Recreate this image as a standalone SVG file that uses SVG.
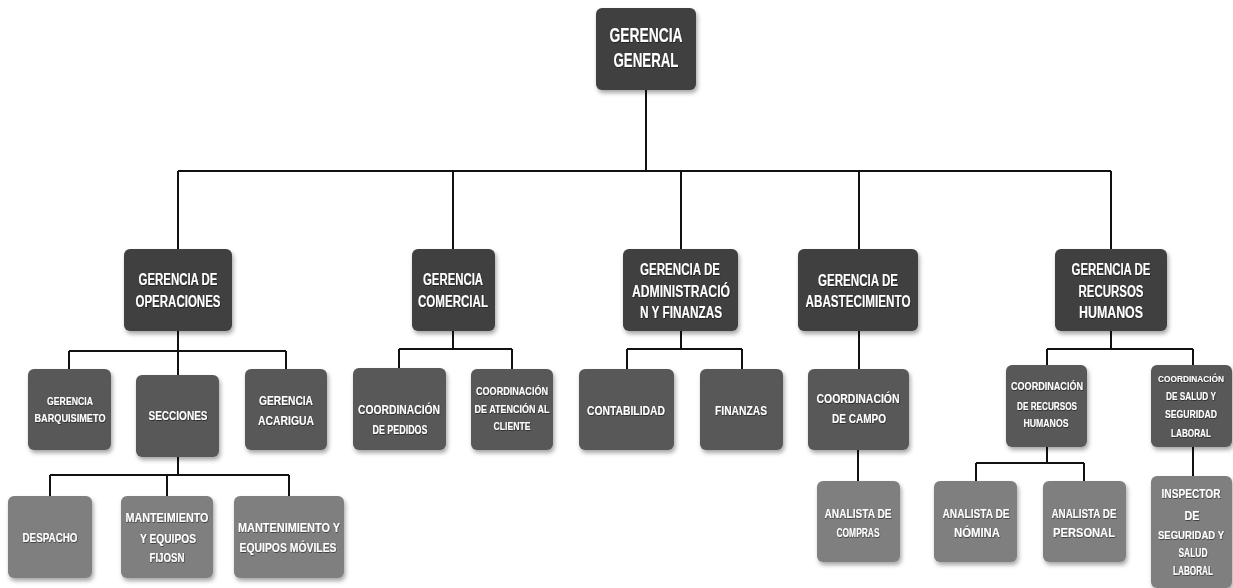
<svg xmlns="http://www.w3.org/2000/svg" width="1233" height="588" viewBox="0 0 1233 588">
  <defs>
    <filter id="shadow" x="-20%" y="-20%" width="140%" height="150%">
      <feDropShadow dx="1.5" dy="3" stdDeviation="2" flood-color="#000" flood-opacity="0.35"/>
    </filter>
    <filter id="glow" x="-10%" y="-30%" width="120%" height="160%">
      <feDropShadow dx="0.5" dy="0.8" stdDeviation="0.6" flood-color="#000" flood-opacity="0.6"/>
    </filter>
    <style>
      .box { filter: url(#shadow); }
      .l1 { fill: #3f3f3f; }
      .l2 { fill: #595959; }
      .l3 { fill: #7f7f7f; }
      text { font-family: "Liberation Sans", Arial, sans-serif; font-weight: bold; fill: #ffffff; text-anchor: middle; filter: url(#glow); }
      .t20 { font-size: 20px; }
      .t16 { font-size: 16px; }
      .t13 { font-size: 13px; }
      .t12 { font-size: 12px; }
      .t11 { font-size: 11px; }
      .t10 { font-size: 10.5px; }
      .t9 { font-size: 9.5px; }
      .wire { fill: none; stroke: #111; stroke-width: 2; }
    </style>
  </defs>
  <rect width="1233" height="588" fill="#ffffff"/>

  <!-- connectors -->
  <g id="connectors" class="wire">
    <path d="M646 90 V171"/>
    <path d="M178 171 H1111"/>
    <path d="M178 171 V249 M453 171 V249 M681 171 V249 M859 171 V249 M1111 171 V249"/>
    <!-- operaciones -->
    <path d="M178 331 V351 M69 351 H286 M69 351 V369 M178 351 V375 M286 351 V369"/>
    <path d="M178 457 V475 M50 475 H289 M50 475 V496 M167 475 V496 M289 475 V496"/>
    <!-- comercial -->
    <path d="M453 331 V349 M399 349 H512 M399 349 V368 M512 349 V369"/>
    <!-- administracion -->
    <path d="M681 331 V349 M627 349 H742 M627 349 V369 M742 349 V369"/>
    <!-- abastecimiento -->
    <path d="M859 331 V369 M858 450 V481"/>
    <!-- recursos humanos -->
    <path d="M1111 331 V349 M1047 349 H1193 M1047 349 V365 M1193 349 V365"/>
    <path d="M1047 447 V463 M976 463 H1084 M976 463 V481 M1084 463 V481"/>
    <path d="M1193 447 V476"/>
  </g>

  <!-- level 0 -->
  <g id="gerencia-general">
    <rect class="box l1" x="596" y="8" width="100" height="82" rx="6"/>
    <text class="t20" x="646" y="42" textLength="73" lengthAdjust="spacingAndGlyphs">GERENCIA</text>
    <text class="t20" x="646" y="67" textLength="65" lengthAdjust="spacingAndGlyphs">GENERAL</text>
  </g>

  <!-- level 1 -->
  <g id="gerencia-operaciones">
    <rect class="box l1" x="124" y="249" width="108" height="82" rx="6"/>
    <text class="t16" x="178" y="285" textLength="79" lengthAdjust="spacingAndGlyphs">GERENCIA DE</text>
    <text class="t16" x="178" y="307" textLength="85" lengthAdjust="spacingAndGlyphs">OPERACIONES</text>
  </g>
  <g id="gerencia-comercial">
    <rect class="box l1" x="412" y="249" width="83" height="82" rx="6"/>
    <text class="t16" x="453" y="285" textLength="60" lengthAdjust="spacingAndGlyphs">GERENCIA</text>
    <text class="t16" x="453" y="307" textLength="70" lengthAdjust="spacingAndGlyphs">COMERCIAL</text>
  </g>
  <g id="gerencia-administracion">
    <rect class="box l1" x="623" y="249" width="115" height="82" rx="6"/>
    <text class="t16" x="680" y="275" textLength="80" lengthAdjust="spacingAndGlyphs">GERENCIA DE</text>
    <text class="t16" x="681" y="297" textLength="98" lengthAdjust="spacingAndGlyphs">ADMINISTRACIÓ</text>
    <text class="t16" x="681" y="318" textLength="82" lengthAdjust="spacingAndGlyphs">N Y FINANZAS</text>
  </g>
  <g id="gerencia-abastecimiento">
    <rect class="box l1" x="798" y="249" width="120" height="82" rx="6"/>
    <text class="t16" x="858" y="286" textLength="80" lengthAdjust="spacingAndGlyphs">GERENCIA DE</text>
    <text class="t16" x="858" y="307" textLength="105" lengthAdjust="spacingAndGlyphs">ABASTECIMIENTO</text>
  </g>
  <g id="gerencia-rrhh">
    <rect class="box l1" x="1055" y="249" width="112" height="82" rx="6"/>
    <text class="t16" x="1111" y="275" textLength="79" lengthAdjust="spacingAndGlyphs">GERENCIA DE</text>
    <text class="t16" x="1111" y="297" textLength="65" lengthAdjust="spacingAndGlyphs">RECURSOS</text>
    <text class="t16" x="1111" y="318" textLength="64" lengthAdjust="spacingAndGlyphs">HUMANOS</text>
  </g>

  <!-- level 2 -->
  <g id="gerencia-barquisimeto">
    <rect class="box l2" x="28" y="369" width="83" height="81" rx="6"/>
    <text class="t11" x="70" y="405" textLength="46" lengthAdjust="spacingAndGlyphs">GERENCIA</text>
    <text class="t11" x="70" y="422" textLength="71" lengthAdjust="spacingAndGlyphs">BARQUISIMETO</text>
  </g>
  <g id="secciones">
    <rect class="box l2" x="136" y="375" width="83" height="82" rx="6"/>
    <text class="t13" x="178" y="420" textLength="59" lengthAdjust="spacingAndGlyphs">SECCIONES</text>
  </g>
  <g id="gerencia-acarigua">
    <rect class="box l2" x="245" y="369" width="82" height="81" rx="6"/>
    <text class="t13" x="286" y="405" textLength="54" lengthAdjust="spacingAndGlyphs">GERENCIA</text>
    <text class="t13" x="286" y="425" textLength="56" lengthAdjust="spacingAndGlyphs">ACARIGUA</text>
  </g>
  <g id="coord-pedidos">
    <rect class="box l2" x="353" y="368" width="93" height="82" rx="6"/>
    <text class="t13" x="399" y="414" textLength="82" lengthAdjust="spacingAndGlyphs">COORDINACIÓN</text>
    <text class="t13" x="400" y="434" textLength="55" lengthAdjust="spacingAndGlyphs">DE PEDIDOS</text>
  </g>
  <g id="coord-atencion">
    <rect class="box l2" x="471" y="369" width="82" height="81" rx="6"/>
    <text class="t11" x="512" y="395" textLength="72" lengthAdjust="spacingAndGlyphs">COORDINACIÓN</text>
    <text class="t11" x="512" y="413" textLength="75" lengthAdjust="spacingAndGlyphs">DE ATENCIÓN AL</text>
    <text class="t11" x="512" y="430" textLength="37" lengthAdjust="spacingAndGlyphs">CLIENTE</text>
  </g>
  <g id="contabilidad">
    <rect class="box l2" x="579" y="369" width="95" height="81" rx="6"/>
    <text class="t13" x="626" y="415" textLength="78" lengthAdjust="spacingAndGlyphs">CONTABILIDAD</text>
  </g>
  <g id="finanzas">
    <rect class="box l2" x="700" y="369" width="83" height="81" rx="6"/>
    <text class="t13" x="741" y="415" textLength="52" lengthAdjust="spacingAndGlyphs">FINANZAS</text>
  </g>
  <g id="coord-campo">
    <rect class="box l2" x="808" y="369" width="101" height="81" rx="6"/>
    <text class="t13" x="858" y="403" textLength="83" lengthAdjust="spacingAndGlyphs">COORDINACIÓN</text>
    <text class="t13" x="859" y="423" textLength="54" lengthAdjust="spacingAndGlyphs">DE CAMPO</text>
  </g>
  <g id="coord-rrhh">
    <rect class="box l2" x="1006" y="365" width="81" height="82" rx="6"/>
    <text class="t10" x="1047" y="390" textLength="72" lengthAdjust="spacingAndGlyphs">COORDINACIÓN</text>
    <text class="t10" x="1047" y="410" textLength="60" lengthAdjust="spacingAndGlyphs">DE RECURSOS</text>
    <text class="t10" x="1046" y="427" textLength="45" lengthAdjust="spacingAndGlyphs">HUMANOS</text>
  </g>
  <g id="coord-salud">
    <rect class="box l2" x="1151" y="365" width="81" height="82" rx="6"/>
    <text class="t9" x="1191" y="382" textLength="66" lengthAdjust="spacingAndGlyphs">COORDINACIÓN</text>
    <text class="t10" x="1191" y="400" textLength="50" lengthAdjust="spacingAndGlyphs">DE SALUD Y</text>
    <text class="t10" x="1191" y="418" textLength="52" lengthAdjust="spacingAndGlyphs">SEGURIDAD</text>
    <text class="t10" x="1191" y="437" textLength="40" lengthAdjust="spacingAndGlyphs">LABORAL</text>
  </g>

  <!-- level 3 -->
  <g id="despacho">
    <rect class="box l3" x="8" y="496" width="84" height="82" rx="6"/>
    <text class="t13" x="50" y="542" textLength="55" lengthAdjust="spacingAndGlyphs">DESPACHO</text>
  </g>
  <g id="mant-fijos">
    <rect class="box l3" x="121" y="496" width="92" height="82" rx="6"/>
    <text class="t13" x="167" y="522" textLength="83" lengthAdjust="spacingAndGlyphs">MANTEIMIENTO</text>
    <text class="t13" x="168" y="543" textLength="56" lengthAdjust="spacingAndGlyphs">Y EQUIPOS</text>
    <text class="t13" x="167" y="562" textLength="35" lengthAdjust="spacingAndGlyphs">FIJOSN</text>
  </g>
  <g id="mant-moviles">
    <rect class="box l3" x="234" y="496" width="110" height="82" rx="6"/>
    <text class="t13" x="289" y="532" textLength="102" lengthAdjust="spacingAndGlyphs">MANTENIMIENTO Y</text>
    <text class="t13" x="288" y="552" textLength="97" lengthAdjust="spacingAndGlyphs">EQUIPOS MÓVILES</text>
  </g>
  <g id="analista-compras">
    <rect class="box l3" x="817" y="481" width="83" height="81" rx="6"/>
    <text class="t13" x="858" y="518" textLength="67" lengthAdjust="spacingAndGlyphs">ANALISTA DE</text>
    <text class="t13" x="858" y="537" textLength="43" lengthAdjust="spacingAndGlyphs">COMPRAS</text>
  </g>
  <g id="analista-nomina">
    <rect class="box l3" x="934" y="481" width="83" height="81" rx="6"/>
    <text class="t13" x="976" y="518" textLength="67" lengthAdjust="spacingAndGlyphs">ANALISTA DE</text>
    <text class="t13" x="977" y="537" textLength="46" lengthAdjust="spacingAndGlyphs">NÓMINA</text>
  </g>
  <g id="analista-personal">
    <rect class="box l3" x="1043" y="481" width="83" height="81" rx="6"/>
    <text class="t13" x="1084" y="518" textLength="65" lengthAdjust="spacingAndGlyphs">ANALISTA DE</text>
    <text class="t13" x="1084" y="537" textLength="62" lengthAdjust="spacingAndGlyphs">PERSONAL</text>
  </g>
  <g id="inspector">
    <rect class="box l3" x="1151" y="476" width="81" height="112" rx="6"/>
    <text class="t12" x="1191" y="498" textLength="59" lengthAdjust="spacingAndGlyphs">INSPECTOR</text>
    <text class="t12" x="1192" y="520" textLength="15" lengthAdjust="spacingAndGlyphs">DE</text>
    <text class="t10" x="1191" y="539" textLength="66" lengthAdjust="spacingAndGlyphs">SEGURIDAD Y</text>
    <text class="t12" x="1193" y="557" textLength="29" lengthAdjust="spacingAndGlyphs">SALUD</text>
    <text class="t12" x="1193" y="575" textLength="40" lengthAdjust="spacingAndGlyphs">LABORAL</text>
  </g>
</svg>
